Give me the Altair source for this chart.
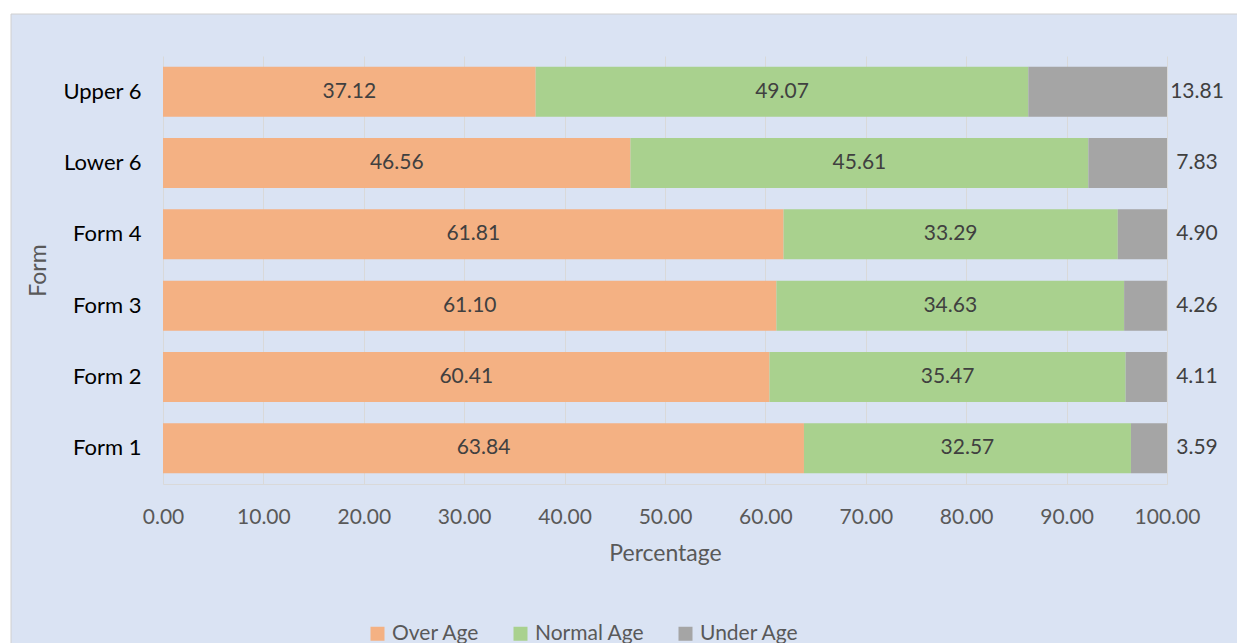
import altair as alt
import pandas as pd

# Share of students by age group within each form (percent)
forms = ["Upper 6", "Lower 6", "Form 4", "Form 3", "Form 2", "Form 1"]
over_age = [37.12, 46.56, 61.81, 61.10, 60.41, 63.84]
normal_age = [49.07, 45.61, 33.29, 34.63, 35.47, 32.57]
under_age = [13.81, 7.83, 4.90, 4.26, 4.11, 3.59]

groups = ["Over Age", "Normal Age", "Under Age"]
colors = ["#f4b183", "#a9d18e", "#a5a5a5"]
x_ticks = [0, 10, 20, 30, 40, 50, 60, 70, 80, 90, 100]

rows = []
for i, form in enumerate(forms):
    start = 0.0
    for k, (grp, vals) in enumerate(zip(groups, [over_age, normal_age, under_age])):
        v = vals[i]
        rows.append(dict(Form=form, Group=grp, Value=v, order=k,
                         start=start, end=start + v, mid=start + v / 2,
                         label=f"{v:.2f}"))
        start += v
df = pd.DataFrame(rows)

FONT = "Lato"
GREY = "#595959"
PANEL = "#dae3f3"

y_enc = alt.Y(
    "Form:N",
    sort=forms,
    scale=alt.Scale(paddingInner=0.3, paddingOuter=0.15),
    axis=alt.Axis(title="Form", titleColor=GREY, titleFontSize=23,
                  titleFontWeight="normal", titlePadding=12,
                  labelColor="#000000", labelFontSize=22,
                  labelFontWeight="normal", labelPadding=22,
                  ticks=False, domain=False, grid=False),
)

x_enc = alt.X(
    "start:Q",
    scale=alt.Scale(domain=[0, 100], nice=False),
    axis=alt.Axis(title="Percentage", titleColor=GREY, titleFontSize=23,
                  titleFontWeight="normal", titlePadding=15,
                  values=x_ticks, format=".2f", labelColor=GREY,
                  labelFontSize=21, labelPadding=22, labelFlush=False,
                  labelOverlap=False, ticks=False,
                  grid=True, gridColor="#d9d9d9", domainColor="#d9d9d9"),
)

# White margin strips above and left of the panel, and the panel's border
frame = alt.Chart(alt.Data(values=[{}]))
top_strip = frame.mark_rect(fill="white").encode(
    x=alt.value(-200), x2=alt.value(1200), y=alt.value(-80), y2=alt.value(-42))
left_strip = frame.mark_rect(fill="white").encode(
    x=alt.value(-200), x2=alt.value(-152), y=alt.value(-80), y2=alt.value(700))
border = frame.mark_rect(fillOpacity=0, stroke="#d0d0d0", strokeWidth=1).encode(
    x=alt.value(-152), x2=alt.value(1200), y=alt.value(-42), y2=alt.value(700))

base = alt.Chart(df)

bars = base.mark_bar().encode(
    y=y_enc,
    x=x_enc,
    x2="end:Q",
    color=alt.Color(
        "Group:N",
        scale=alt.Scale(domain=groups, range=colors),
        legend=alt.Legend(title=None, orient="none", direction="horizontal",
                          legendX=204, legendY=567, symbolType="square",
                          symbolSize=196, symbolStrokeWidth=0,
                          labelFontSize=21, labelColor=GREY, labelOffset=4,
                          columnPadding=30),
    ),
    order="order:Q",
)

inner_labels = base.transform_filter(
    alt.datum.Group != "Under Age"
).mark_text(fontSize=21, color="#404040", font=FONT, baseline="middle").encode(
    y=alt.Y("Form:N", sort=forms),
    x=alt.X("mid:Q"),
    text="label:N",
)

outer_labels = base.transform_filter(
    alt.datum.Group == "Under Age"
).mark_text(fontSize=21, color="#404040", font=FONT, baseline="middle",
            align="center", dx=30).encode(
    y=alt.Y("Form:N", sort=forms),
    x=alt.X("end:Q"),
    text="label:N",
)

chart = alt.layer(top_strip, left_strip, border, bars, inner_labels,
                  outer_labels).properties(
    width=1004,
    height=428,
    autosize=alt.AutoSizeParams(type="none"),
    padding={"left": 163, "top": 56, "right": 70, "bottom": 159},
    background=PANEL,
).configure(font=FONT).configure_view(stroke=None)

chart.save("out.html", embed_options={"renderer": "svg", "actions": False})
